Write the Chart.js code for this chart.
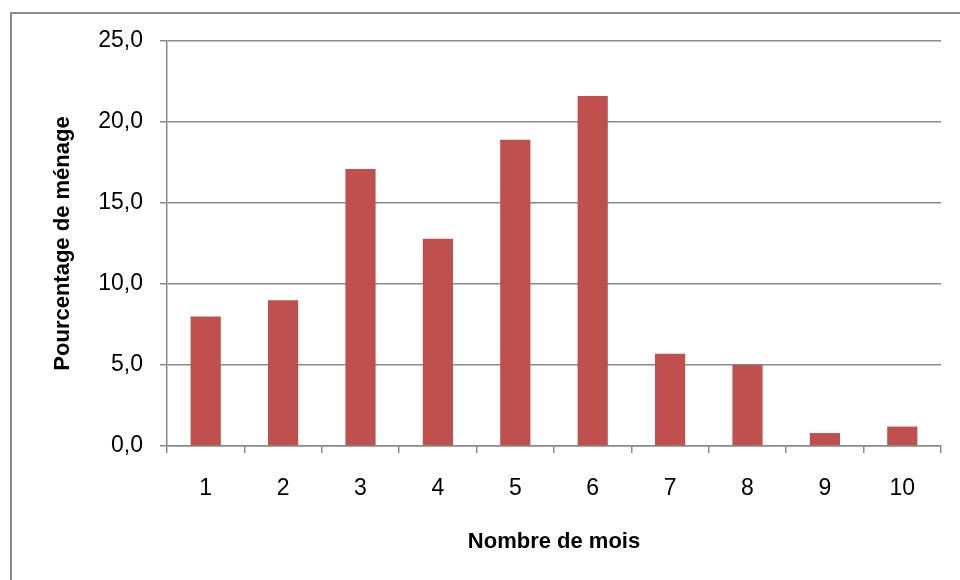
<!DOCTYPE html>
<html>
<head>
<meta charset="utf-8">
<script src="https://cdn.jsdelivr.net/npm/chart.js@4"></script>
<style>
  html, body { margin: 0; padding: 0; background: #fff; overflow: hidden; }
  #wrap { position: relative; width: 960px; height: 580px; }
  #frame { position: absolute; left: 10px; top: 12px; width: 1000px; height: 700px; border: 2px solid #8c8c8c; }
  canvas { position: absolute; left: 0; top: 0; }
</style>
</head>
<body>
<div id="wrap">
  <div id="frame"></div>
  <canvas id="chart" width="960" height="580"></canvas>
</div>
<script>
const months = ["1", "2", "3", "4", "5", "6", "7", "8", "9", "10"];
const percentages = [8.0, 9.0, 17.1, 12.8, 18.9, 21.6, 5.7, 5.0, 0.8, 1.2];
const yTicks = [0, 5, 10, 15, 20, 25];

const gridColor = "#8a8a8a";
const font = { family: "'Liberation Sans', Arial, sans-serif", size: 23 };
const titleFont = { family: "'Liberation Sans', Arial, sans-serif", size: 22, weight: "bold" };

new Chart(document.getElementById("chart"), {
  type: "bar",
  data: {
    labels: months,
    datasets: [{
      data: percentages,
      backgroundColor: "#C0504D",
      borderWidth: 0,
      barPercentage: 0.39,
      categoryPercentage: 1
    }]
  },
  options: {
    responsive: false,
    animation: false,
    layout: { padding: { left: 0, top: 41, right: 19, bottom: 0 } },
    plugins: { legend: { display: false }, tooltip: { enabled: false } },
    scales: {
      x: {
        grid: { display: true, drawOnChartArea: false, drawTicks: true, tickLength: 7, color: gridColor, lineWidth: 1.5, offset: true },
        border: { display: true, color: gridColor, width: 1.5 },
        ticks: { color: "#000", font: font, padding: 22, maxRotation: 0 },
        title: { display: true, text: "Nombre de mois", color: "#000", font: titleFont, padding: { top: 0, bottom: 25 } },
        afterFit: s => { s.height = 134; }
      },
      y: {
        min: 0,
        max: 25,
        afterBuildTicks: s => { s.ticks = yTicks.map(v => ({ value: v })); },
        grid: { color: gridColor, lineWidth: 1.5, tickLength: 7, drawTicks: true },
        border: { display: true, color: gridColor, width: 1.5 },
        ticks: {
          color: "#000",
          font: font,
          padding: 17,
          callback: v => v.toFixed(1).replace(".", ",")
        },
        title: { display: true, text: "Pourcentage de ménage", color: "#000", font: titleFont, padding: { top: 50, bottom: 0 } },
        afterFit: s => { s.width = 167; }
      }
    }
  }
});
</script>
</body>
</html>
